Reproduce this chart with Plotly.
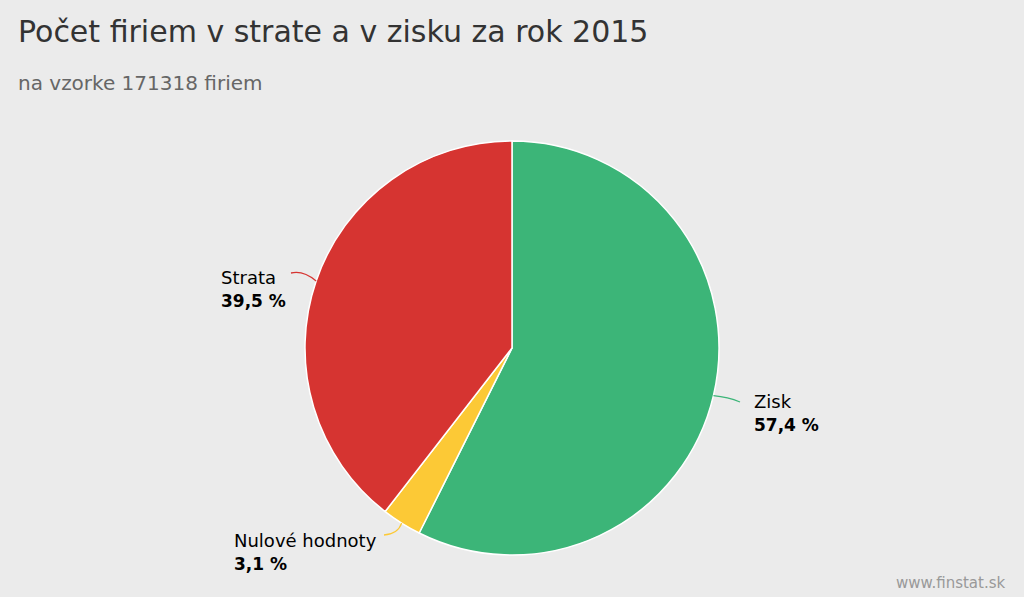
import math
import plotly.graph_objects as go

labels = ["Zisk", "Nulové hodnoty", "Strata"]
values = [57.4, 3.1, 39.5]
value_texts = ["57,4 %", "3,1 %", "39,5 %"]
colors = ["#3cb578", "#fcc936", "#d63431"]

W, H = 1024, 597
cx, cy, R = 512, 348, 207
FONT = "DejaVu Sans, Verdana, sans-serif"

fig = go.Figure()
fig.add_trace(go.Pie(
    labels=labels, values=values, sort=False, direction="clockwise", rotation=0,
    marker=dict(colors=colors, line=dict(color="#ffffff", width=1.5)),
    textinfo="none", hoverinfo="label+percent", showlegend=False,
    domain=dict(x=[(cx - R) / W, (cx + R) / W], y=[(H - cy - R) / H, (H - cy + R) / H]),
))

def px(x, y):
    return x / W, 1 - y / H

# label placement in pixels: connector end, curve control, text left x, line-1 centre y
label_cfg = {
    "Zisk": dict(end=(740, 402), ctrl=(728, 397), tx=752, ty=401),
    "Nulové hodnoty": dict(end=(384, 535), ctrl=(398, 534), tx=232, ty=540),
    "Strata": dict(end=(291, 273), ctrl=(303, 270), tx=219, ty=277),
}

total = sum(values)
cum = 0
shapes = []
annotations = []
for lab, v, vt, col in zip(labels, values, value_texts, colors):
    mid = (cum + v / 2) / total * 2 * math.pi
    cum += v
    ex = cx + R * math.sin(mid)
    ey = cy - R * math.cos(mid)
    cfg = label_cfg[lab]
    x0, y0 = px(ex, ey)
    qx, qy = px(*cfg["ctrl"])
    x1, y1 = px(*cfg["end"])
    shapes.append(dict(type="path", xref="paper", yref="paper",
                       path=f"M {x0} {y0} Q {qx} {qy} {x1} {y1}",
                       line=dict(color=col, width=1.3)))
    for i, (t, sz) in enumerate([(lab, 18), (f"<b>{vt}</b>", 17)]):
        tx, ty = px(cfg["tx"], cfg["ty"] + 24 * i)
        annotations.append(dict(x=tx, y=ty, xref="paper", yref="paper", xanchor="left",
                                yanchor="middle", align="left", showarrow=False, text=t,
                                font=dict(family=FONT, size=sz, color="#000000")))

annotations.append(dict(x=16 / W, y=1 - 32 / H, xref="paper", yref="paper", xanchor="left",
                        yanchor="middle", showarrow=False,
                        text="Počet firiem v strate a v zisku za rok 2015",
                        font=dict(family=FONT, size=30, color="#333333")))
annotations.append(dict(x=16 / W, y=1 - 83 / H, xref="paper", yref="paper", xanchor="left",
                        yanchor="middle", showarrow=False,
                        text="na vzorke 171318 firiem",
                        font=dict(family=FONT, size=20, color="#666666")))
annotations.append(dict(x=1008 / W, y=1 - 583 / H, xref="paper", yref="paper", xanchor="right",
                        yanchor="middle", showarrow=False,
                        text="www.finstat.sk",
                        font=dict(family=FONT, size=15, color="#999999")))

fig.update_layout(
    width=W, height=H,
    margin=dict(l=0, r=0, t=0, b=0),
    paper_bgcolor="#ebebeb", plot_bgcolor="#ebebeb",
    shapes=shapes, annotations=annotations,
)

fig.write_html("out.html", config={"displayModeBar": False},
               post_script="document.body.style.margin='0';document.body.style.background='#ebebeb';")
